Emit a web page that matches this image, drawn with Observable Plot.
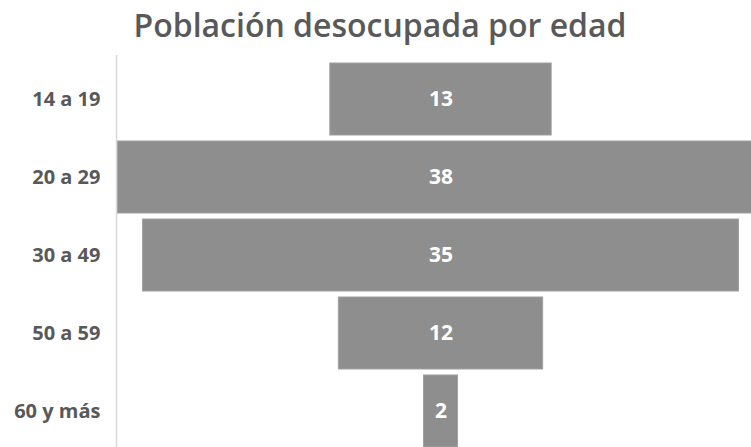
<!DOCTYPE html>
<html>
<head>
<meta charset="utf-8">
<script src="https://cdn.jsdelivr.net/npm/d3@7"></script>
<script src="https://cdn.jsdelivr.net/npm/@observablehq/plot@0.6"></script>
<style>
  html, body { margin: 0; padding: 0; background: #fff; overflow: hidden; width: 751px; height: 447px; }
  #title { height: 55px; width: 751px; position: relative; }
  #title span { position: absolute; left: 380px; top: 3px; transform: translateX(-50%); white-space: nowrap;
    font-family: "Open Sans", sans-serif; font-weight: 600; font-size: 32px; color: #595959; }
  #chart { width: 765px; }
  #chart svg { display: block; max-width: none !important; }
</style>
</head>
<body>
<div id="title"><span>Población desocupada por edad</span></div>
<div id="chart"></div>
<script>
const categories = ["14 a 19", "20 a 29", "30 a 49", "50 a 59", "60 y más"];
const values = [13, 38, 35, 12, 2];

const data = categories.map((c, i) => ({ cat: c, v: values[i] }));

const chart = Plot.plot({
  width: 765,
  height: 400,
  marginLeft: 116,
  marginRight: 0,
  marginTop: 0,
  marginBottom: 0,
  x: { domain: [-19.06, 19.06], axis: null },
  y: { domain: categories, padding: 0.08, label: null },
  style: { fontFamily: "Open Sans, sans-serif", maxWidth: "none" },
  marks: [
    Plot.barX(data, { y: "cat", x1: d => -d.v / 2, x2: d => d.v / 2, fill: "#8e8e8e", stroke: "#a0a0a0", strokeWidth: 1 }),
    Plot.frame({ anchor: "left", stroke: "#d9d9d9", strokeWidth: 1.5 }),
    Plot.axisY({ tickSize: 0, tickPadding: 16, fontSize: 20, fontWeight: 700, fill: "#595959", label: null }),
    Plot.text(data, { y: "cat", x: 0, text: d => String(d.v), fill: "#fff", fontSize: 21, fontWeight: 700 })
  ]
});
document.getElementById("chart").appendChild(chart);
</script>
</body>
</html>
